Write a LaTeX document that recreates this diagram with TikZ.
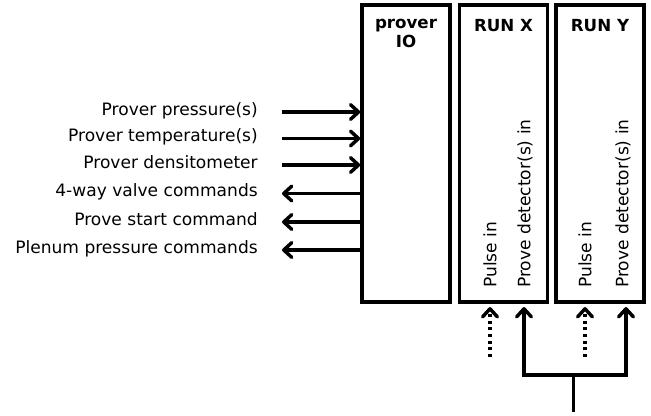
\documentclass[tikz,border=0pt]{standalone}
\usepackage{fontspec}
\setmainfont{DejaVu Sans}
\usetikzlibrary{arrows.meta,positioning}
\definecolor{linecol}{gray}{0.0}
\tikzset{
  blk/.style={draw=linecol,line width=2.6pt,rectangle,minimum width=66pt,minimum height=222.75pt,inner sep=0pt},
  head/.style={font=\fontsize{12.5}{14.25}\selectfont\bfseries,align=center,inner sep=0pt,anchor=north},
  sig/.style={font=\fontsize{12.8}{15}\selectfont,anchor=base east,inner sep=0pt},
  vsig/.style={font=\fontsize{12.8}{15}\selectfont,anchor=west,rotate=90,inner sep=0pt},
  wire/.style={draw=linecol,line width=2.6pt,line join=miter,-{Straight Barb[length=6pt,width=11pt,round]}},
  dotwire/.style={wire,dash pattern=on 2.3pt off 2.7pt},
  trunk/.style={draw=linecol,line width=2.6pt},
}
\begin{document}
\begin{tikzpicture}[x=0.75pt,y=-0.75pt]
  \useasboundingbox (0,0) rectangle (651,415);
  % the three blocks
  \node[blk] (io) at (406,153.5) {};
  \node[blk] (runx) at (503.5,153.5) {};
  \node[blk] (runy) at (600,153.5) {};
  \node[head] (iohead) at (406,19) {prover\\IO};
  \node[head] (runxhead) at (503.5,19) {RUN X};
  \node[head] (runyhead) at (600,19) {RUN Y};
  % prover signals
  \node[sig] (lpp) at (258,115) {Prover pressure(s)};
  \node[sig] (lpt) at (258,141.5) {Prover temperature(s)};
  \node[sig] (lpd) at (258,168) {Prover densitometer};
  \node[sig] (lvc) at (258,196.5) {4-way valve commands};
  \node[sig] (lsc) at (258,225) {Prove start command};
  \node[sig] (lpc) at (258,253) {Plenum pressure commands};
  \coordinate (pp) at (282,112);
  \coordinate (pt) at (282,138.5);
  \coordinate (pd) at (282,165);
  \coordinate (vc) at (282,193.5);
  \coordinate (sc) at (282,222);
  \coordinate (pc) at (282,250);
  \draw[wire] (pp) -- (pp -| io.west);
  \draw[wire] (pt) -- (pt -| io.west);
  \draw[wire] (pd) -- (pd -| io.west);
  \draw[wire] (vc -| io.west) -- (vc);
  \draw[wire] (sc -| io.west) -- (sc);
  \draw[wire] (pc -| io.west) -- (pc);
  % run inputs
  \node[vsig] (pulsex) at (490,288) {Pulse in};
  \node[vsig] (detx) at (525,288) {Prove detector(s) in};
  \node[vsig] (pulsey) at (585,288) {Pulse in};
  \node[vsig] (dety) at (623,288) {Prove detector(s) in};
  \coordinate (px) at (490,357);
  \coordinate (py) at (585,357);
  \draw[dotwire,shorten >=2.5pt] (px) -- (px |- runx.south);
  \draw[dotwire,shorten >=2.5pt] (py) -- (py |- runy.south);
  \coordinate (fork) at (573.5,375);
  \coordinate (src) at (573.5,412);
  \coordinate (dx) at (524,375);
  \coordinate (dy) at (626,375);
  \draw[trunk] (src) -- (fork);
  \draw[wire,shorten >=2.5pt] (fork) -- (dx) -- (dx |- runx.south);
  \draw[wire,shorten >=2.5pt] (fork) -- (dy) -- (dy |- runy.south);
\end{tikzpicture}
\end{document}
